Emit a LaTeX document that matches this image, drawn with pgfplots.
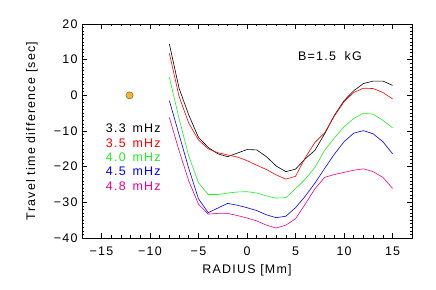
\documentclass[border=0pt]{standalone}
\usepackage{fontspec}
\setmainfont{Liberation Sans}[LetterSpace=10]
\usepackage{pgfplots}
\usepackage{pgfplotstable}
\pgfplotsset{compat=1.18}
\definecolor{cgreen}{RGB}{30,240,30}
\definecolor{cdot}{RGB}{247,184,40}
\pgfplotstableread{
x black red green blue magenta
-8 14.4 11.8 5.1 -1.5 -6.2
-7 2.0 -0.3 -6.5 -11.0 -15.5
-6 -5.5 -7.8 -17.0 -20.5 -24.0
-5 -11.8 -12.5 -24.5 -29.0 -30.5
-4 -14.6 -15.0 -27.8 -32.9 -33.3
-3 -16.4 -16.1 -27.8 -31.6 -33.1
-2 -17.2 -16.7 -27.4 -30.3 -33.1
-1 -16.2 -17.3 -27.1 -30.8 -33.7
0 -15.2 -18.3 -27.0 -31.5 -34.4
1 -15.3 -19.6 -27.4 -32.3 -35.2
2 -17.2 -20.8 -28.2 -33.5 -36.4
3 -19.8 -22.3 -28.8 -34.3 -37.2
4 -21.4 -23.5 -28.7 -33.9 -36.4
5 -20.7 -22.7 -26.2 -31.5 -34.6
6 -17.8 -17.5 -23.5 -28.3 -30.5
7 -15.4 -13.2 -20.2 -24.6 -26.2
8 -10.8 -10.5 -15.4 -20.5 -23.0
9 -5.6 -5.8 -12.0 -16.5 -22.2
10 -1.5 -1.8 -8.8 -13.0 -21.6
11 1.3 0.8 -6.5 -10.6 -21.0
12 3.3 2.0 -5.0 -9.9 -20.6
13 4.0 1.9 -5.3 -10.8 -21.4
14 4.0 0.8 -7.0 -13.0 -23.0
15 2.8 -1.0 -9.1 -16.4 -26.1
}\data
\pgfplotstableread{
x y
-12.1 0
}\dot
\begin{document}
\begin{tikzpicture}
\useasboundingbox (-82bp,-52bp) rectangle (354bp,238bp);
\begin{axis}[
  scale only axis,
  width=330bp, height=214bp,
  xmin=-17, xmax=17, ymin=-40, ymax=20,
  xtick={-15,-10,-5,0,5,10,15},
  xticklabels={−15,−10,−5,0,5,10,15},
  ytick={-40,-30,-20,-10,0,10,20},
  yticklabels={−40,−30,−20,−10,0,10,20},
  minor x tick num=4, minor y tick num=9,
  tick align=inside,
  major tick length=5bp, minor tick length=2.5bp,
  every tick/.style={black, line width=0.6pt},
  axis line style={line width=0.9pt},
  font=\fontsize{12.5}{15}\selectfont,
  /pgf/number format/assume math mode=true,
  xticklabel style={yshift=-5bp},
  yticklabel style={xshift=-1bp},
  xlabel={RADIUS [Mm]},
  ylabel={Travel time difference [sec]},
  xlabel style={at={(axis description cs:0.5,-0.1495)}, anchor=center},
  ylabel style={at={(axis description cs:-0.1515,0.5)}, anchor=center},
  clip=false,
]
\addplot[black, line width=0.6pt] table[x=x,y=black] {\data};
\addplot[red, line width=0.6pt] table[x=x,y=red] {\data};
\addplot[cgreen, line width=0.6pt] table[x=x,y=green] {\data};
\addplot[blue, line width=0.6pt] table[x=x,y=blue] {\data};
\addplot[magenta, line width=0.6pt] table[x=x,y=magenta] {\data};
\addplot[only marks, mark=*, mark size=3.6bp, mark options={fill=cdot, draw=black!70, line width=0.4pt}] table[x=x,y=y] {\dot};
\node[anchor=west, black] at (axis cs:-14.9,-9.1) {3.3\hspace{0.55em}mHz};
\node[anchor=west, red] at (axis cs:-14.9,-13.4) {3.5\hspace{0.55em}mHz};
\node[anchor=west, cgreen] at (axis cs:-14.9,-17.3) {4.0\hspace{0.55em}mHz};
\node[anchor=west, blue] at (axis cs:-14.9,-21.4) {4.5\hspace{0.55em}mHz};
\node[anchor=west, magenta] at (axis cs:-14.9,-25.4) {4.8\hspace{0.55em}mHz};
\node[anchor=west, black] at (axis cs:4.9,11.1) {B=1.5\hspace{0.7em}kG};
\end{axis}
\end{tikzpicture}
\end{document}
